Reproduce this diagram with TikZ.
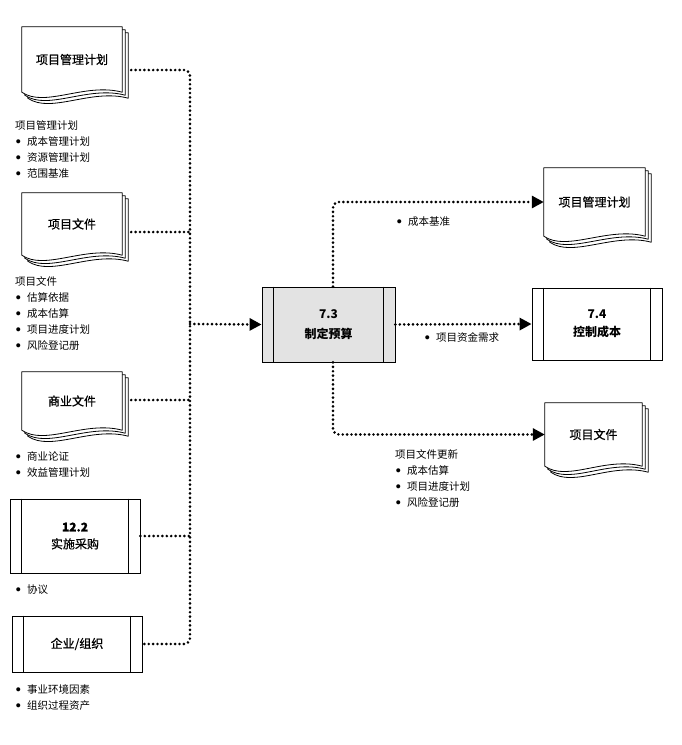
\documentclass[tikz,border=0pt]{standalone}
\usepackage{fontspec}
\setmainfont{Noto Sans CJK SC}
\newfontfamily\medfont[FakeBold=0.8]{Noto Sans CJK SC}
\usetikzlibrary{arrows.meta,calc,backgrounds}
\newcommand\bul{\makebox[12pt][l]{\hspace{1pt}\raisebox{2.2pt}{\fontsize{4.5}{4.5}\selectfont ●}}}
\newcommand\drawdoc[1]{%
  \begin{pgfonlayer}{background}
  \foreach \s in {6,3,0}{
    \draw[page] ($(#1.north west)+(\s,\s)$) -- ($(#1.north east)+(\s,\s)$) -- ($(#1.south east)+(\s,\s)$)
      .. controls ($(#1.south east)+(\s,\s)+(-37,-10)$) and ($(#1.south west)+(\s,\s)+(23,16)$) .. ($(#1.south west)+(\s,\s)$) -- cycle;
  }
  \end{pgfonlayer}}
\newcommand\procinner[1]{%
  \draw[line width=0.8pt] ([xshift=12pt]#1.north west) -- ([xshift=12pt]#1.south west)
    ([xshift=-12pt]#1.north east) -- ([xshift=-12pt]#1.south east);}
\tikzset{
  dotline/.style={line width=2.9pt, dash pattern=on 0pt off 4.4pt, line cap=round, rounded corners=6pt},
  dotarrow/.style={dotline, -{Triangle[length=12pt,width=12pt]}},
  docnode/.style={inner sep=0pt, font=\medfont\fontsize{12}{14}\selectfont, align=center},
  procbox/.style={draw, line width=0.8pt, fill=white, align=center, inner sep=0pt},
  listtext/.style={anchor=north west, inner sep=0pt, align=left, font=\fontsize{10.5}{16}\selectfont},
  page/.style={draw, line width=0.8pt, fill=white, line join=round},
}
\begin{document}
\begin{tikzpicture}[x=1pt, y=-1pt]
\useasboundingbox (0,0) rectangle (682,745);

% left documents
\node[docnode, minimum width=100, minimum height=65] (pmp1) at (72,59.5) {项目管理计划};
\drawdoc{pmp1}
\node[docnode, minimum width=100, minimum height=62] (pf1) at (72,224) {项目文件};
\drawdoc{pf1}
\node[docnode, minimum width=100, minimum height=58] (bd) at (72,401) {商业文件};
\drawdoc{bd}

% left boxes
\node[procbox, minimum width=130, minimum height=74, font=\medfont\fontsize{12}{17}\selectfont] (pr122) at (75,536) {\textbf{12.2}\\实施采购};
\procinner{pr122}
\node[procbox, minimum width=130, minimum height=56, font=\medfont\fontsize{12}{14}\selectfont] (org) at (77,644) {企业/组织};
\procinner{org}

% center box
\node[procbox, fill=black!11, minimum width=133, minimum height=75, font=\bfseries\fontsize{12}{20}\selectfont] (c73) at (328.5,324.5) {7.3\\制定预算};
\procinner{c73}

% right targets
\node[docnode, minimum width=101, minimum height=68] (pmp2) at (594.5,202) {项目管理计划};
\drawdoc{pmp2}
\node[procbox, minimum width=130, minimum height=72, font=\bfseries\fontsize{12}{18}\selectfont] (c74) at (597,324) {7.4\\控制成本};
\procinner{c74}
\node[docnode, minimum width=97, minimum height=63] (pf2) at (593.5,434.5) {项目文件};
\drawdoc{pf2}

% lists
\node[listtext] (l1) at (15,120.5) {项目管理计划\\\bul 成本管理计划\\\bul 资源管理计划\\\bul 范围基准};
\node[listtext] (l2) at (15,276.5) {项目文件\\\bul 估算依据\\\bul 成本估算\\\bul 项目进度计划\\\bul 风险登记册};
\node[listtext] (l3) at (15,451.5) {\bul 商业论证\\\bul 效益管理计划};
\node[listtext] (l4) at (15,584.5) {\bul 协议};
\node[listtext] (l5) at (15,684.5) {\bul 事业环境因素\\\bul 组织过程资产};
\node[listtext] (l6) at (395,449.5) {项目文件更新\\\bul 成本估算\\\bul 项目进度计划\\\bul 风险登记册};
\node[listtext] (l7) at (396,216.5) {\bul 成本基准};
\node[listtext] (l8) at (424,332.5) {\bul 项目资金需求};

% bus coordinates
\coordinate (b1) at (190,70);
\coordinate (b2) at (190,232);
\coordinate (b3) at (190,400);
\coordinate (b4) at (190,536);
\coordinate (b5) at (190,644);
\coordinate (bm) at (190,324);

% inputs
\draw[dotline] ($(pmp1.east|-b1)+(9,0)$) -- (b1) -- (b5) -- (org.east);
\draw[dotline] ($(pf1.east|-b2)+(9,0)$) -- (b2);
\draw[dotline] ($(bd.east|-b3)+(9,0)$) -- (b3);
\draw[dotline] (pr122.east) -- (b4);
\draw[dotarrow] (bm) -- (c73.west);

% outputs
\draw[dotarrow] ([xshift=4.5pt]c73.north) |- (pmp2.west);
\draw[dotarrow] (c73.east) -- (c74.west);
\draw[dotarrow] ([xshift=4.5pt]c73.south) |- (pf2.west);
\end{tikzpicture}
\end{document}
